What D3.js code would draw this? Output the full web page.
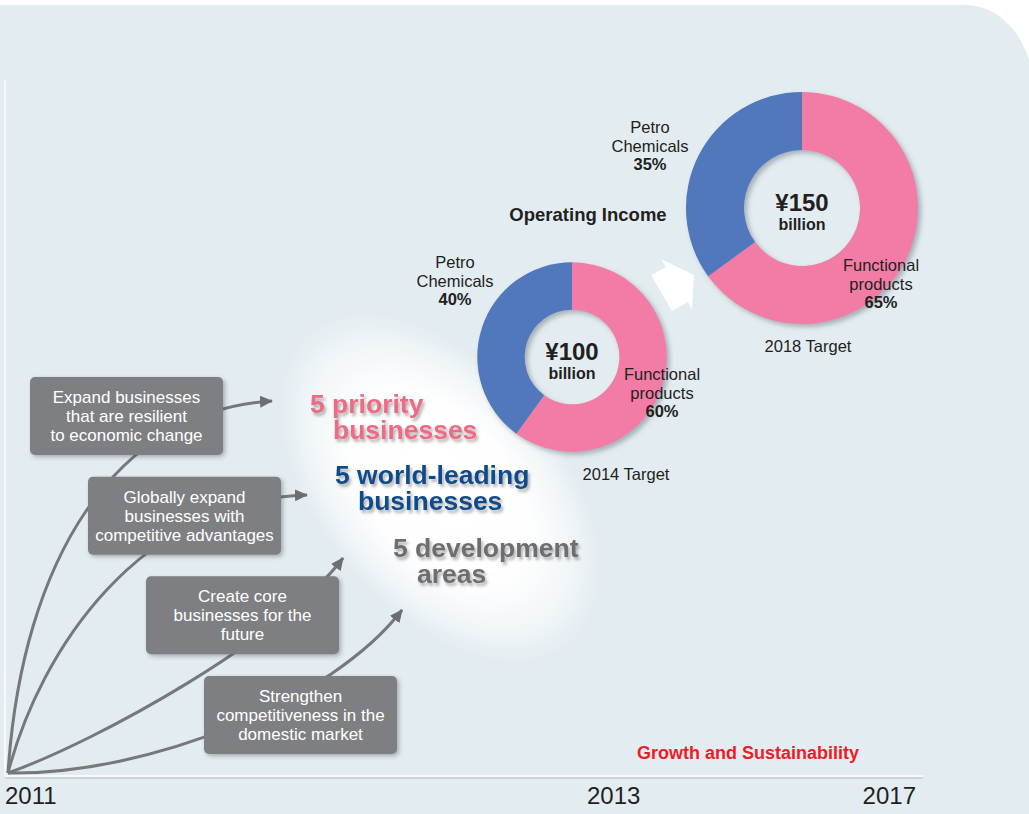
<!DOCTYPE html>
<html>
<head>
<meta charset="utf-8">
<script src="https://cdn.jsdelivr.net/npm/d3@7"></script>
<style>
  body { margin: 0; background: #fff; }
  svg { display: block; font-family: "Liberation Sans", Arial, Helvetica, sans-serif; }
</style>
</head>
<body>
<svg id="chart"></svg>
<script>
// data
const years = [2011, 2013, 2017];
const targets = ["2014 Target", "2018 Target"];
const income = [100, 150];            // ¥ billion
const segments = ["Functional products", "Petro Chemicals"];
const share2014 = [60, 40];
const share2018 = [65, 35];
const strategies = [
    ["Expand businesses", "that are resilient", "to economic change"],
    ["Globally expand", "businesses with", "competitive advantages"],
    ["Create core", "businesses for the", "future"],
    ["Strengthen", "competitiveness in the", "domestic market"]
];
const goals = [
    ["5 priority", "businesses"],
    ["5 world-leading", "businesses"],
    ["5 development", "areas"]
];

const width = 1029, height = 814;
const colors = {pink: "#f27ca5", blue: "#5177bc", bg: "#e3ecf1", box: "#7e7f82", ink: "#231f20"};

const svg = d3.select("svg#chart")
    .attr("width", width)
    .attr("height", height);

const defs = svg.append("defs");

let shadow = (id, dx, dy, sd, op, col) => {
    defs.append("filter").attr("id", id)
        .attr("x", "-20%").attr("y", "-20%").attr("width", "150%").attr("height", "150%")
        .append("feDropShadow")
        .attr("dx", dx).attr("dy", dy).attr("stdDeviation", sd)
        .attr("flood-color", col).attr("flood-opacity", op);
};
shadow("donutShadow", 3, 3, 2.5, 0.55, "#6f7f8a");
shadow("boxShadow", 2, 2, 2, 0.35, "#333");
shadow("textShadow", 2, 3, 1.5, 0.45, "#555");

const glow = defs.append("radialGradient").attr("id", "glow");
glow.append("stop").attr("offset", "0%").attr("stop-color", "#fff").attr("stop-opacity", 1);
glow.append("stop").attr("offset", "55%").attr("stop-color", "#fff").attr("stop-opacity", 0.97);
glow.append("stop").attr("offset", "80%").attr("stop-color", "#fff").attr("stop-opacity", 0.55);
glow.append("stop").attr("offset", "100%").attr("stop-color", "#fff").attr("stop-opacity", 0);

defs.append("marker")
    .attr("id", "head")
    .attr("markerUnits", "userSpaceOnUse")
    .attr("markerWidth", 16).attr("markerHeight", 14)
    .attr("refX", 12).attr("refY", 6)
    .attr("orient", "auto")
    .append("path")
    .attr("d", "M0,0 L13,6 L0,12 Z")
    .attr("fill", "#6d6e71");

// background panel with rounded top-right corner
svg.append("path")
    .attr("d", "M0,5 H966 A68,88 0 0 1 1034,93 V814 H0 Z")
    .attr("fill", colors.bg);

// white glow behind goal text
svg.append("ellipse")
    .attr("cx", 440).attr("cy", 488)
    .attr("rx", 205).attr("ry", 122)
    .attr("transform", "rotate(50,440,488)")
    .attr("fill", "url(#glow)");

// time axis
const xYear = d3.scaleLinear().domain(years).range([5, 587, 916]);

svg.append("line")
    .attr("x1", 5).attr("x2", 5).attr("y1", 80).attr("y2", 776)
    .attr("stroke", "#fff").attr("stroke-width", 1.5);
svg.append("line")
    .attr("x1", 5).attr("x2", 923).attr("y1", 778).attr("y2", 778)
    .attr("stroke", "#c4cdd3").attr("stroke-width", 1.5);
svg.append("line")
    .attr("x1", 5).attr("x2", 923).attr("y1", 776).attr("y2", 776)
    .attr("stroke", "#fff").attr("stroke-width", 1.5);

svg.selectAll("text.year")
    .data(years)
    .enter().append("text")
    .attr("class", "year")
    .attr("x", (d) => xYear(d))
    .attr("y", 804)
    .attr("text-anchor", (d, i) => i == years.length - 1 ? "end" : "start")
    .attr("font-size", "24px")
    .attr("fill", colors.ink)
    .text((d) => d);

svg.append("text")
    .attr("x", 748).attr("y", 759)
    .attr("text-anchor", "middle")
    .attr("font-size", "18px")
    .attr("font-weight", "bold")
    .attr("fill", "#ed1c24")
    .text("Growth and Sustainability");

// curves from 2011 to each goal (behind the boxes)
const origin = [8, 773];
const curveLayout = [
    {c1: [22, 560], c2: [115, 410], tip: [272, 401]},
    {c1: [40, 650], c2: [140, 500], tip: [307, 495]},
    {c1: [100, 740], c2: [283, 638], tip: [343, 558]},
    {c1: [150, 775], c2: [332, 701], tip: [402, 610]}
];

svg.selectAll("path.curve")
    .data(curveLayout)
    .enter().append("path")
    .attr("class", "curve")
    .attr("d", (d) => {
        let p = d3.path();
        p.moveTo(origin[0], origin[1]);
        p.bezierCurveTo(d.c1[0], d.c1[1], d.c2[0], d.c2[1], d.tip[0], d.tip[1]);
        return p.toString();
    })
    .attr("fill", "none")
    .attr("stroke", "#77787b")
    .attr("stroke-width", 3)
    .attr("marker-end", "url(#head)");

// strategy boxes
const boxW = 193, boxH = 78;
const boxX = d3.scaleLinear().domain([0, 3]).range([30, 204]);
const boxY = d3.scaleLinear().domain([0, 3]).range([377, 676]);

const boxes = svg.selectAll("g.box")
    .data(strategies)
    .enter().append("g")
    .attr("class", "box")
    .attr("transform", (d, i) => "translate(" + boxX(i) + "," + boxY(i) + ")");

boxes.append("rect")
    .attr("width", boxW).attr("height", boxH)
    .attr("rx", 5)
    .attr("fill", colors.box)
    .attr("filter", "url(#boxShadow)");

boxes.selectAll("text")
    .data((d) => d)
    .enter().append("text")
    .attr("x", boxW / 2)
    .attr("y", (d, i) => 26 + i * 19)
    .attr("text-anchor", "middle")
    .attr("font-size", "17px")
    .attr("fill", "#fff")
    .text((d) => d);

// goal text
const goalColors = ["#ef6a84", "#0f4c8c", "#6d6e71"];
const goalPos = [
    [[310, 413], [333, 439]],
    [[335, 484], [358, 510]],
    [[393, 557], [417, 583]]
];

goals.forEach((lines, gi) => {
    svg.selectAll(null)
        .data(lines)
        .enter().append("text")
        .attr("x", (d, i) => goalPos[gi][i][0])
        .attr("y", (d, i) => goalPos[gi][i][1])
        .attr("font-size", "26.5px")
        .attr("font-weight", "bold")
        .attr("fill", goalColors[gi])
        .attr("filter", "url(#textShadow)")
        .text((d) => d);
});

// donuts
const radius = d3.scaleSqrt().domain([0, 150]).range([0, 116]);
const pie = d3.pie().sort(null).value((d) => d);
const donutLayout = [
    {cx: 572, cy: 357, petro: [455, 268], func: [662, 380], target: [626, 480]},
    {cx: 802, cy: 208, petro: [650, 133], func: [881, 271], target: [808, 352]}
];
const shares = [share2014, share2018];
const segColors = [colors.pink, colors.blue];

svg.append("text")
    .attr("x", 588).attr("y", 221)
    .attr("text-anchor", "middle")
    .attr("font-size", "18.5px")
    .attr("font-weight", "bold")
    .attr("fill", colors.ink)
    .text("Operating Income");

// white arrow between the donuts
svg.append("path")
    .attr("d", "M651,275 L666,267 L661,259 L694,275 L692,310 L688,302 L672,311 Z")
    .attr("fill", "#fff");

donutLayout.forEach((lay, k) => {
    let r = radius(income[k]);
    let arc = d3.arc().innerRadius(r * 0.5).outerRadius(r);
    let g = svg.append("g")
        .attr("transform", "translate(" + lay.cx + "," + lay.cy + ")");

    g.append("g")
        .attr("filter", "url(#donutShadow)")
        .selectAll("path")
        .data(pie(shares[k]))
        .enter().append("path")
        .attr("d", arc)
        .attr("fill", (d, i) => segColors[i]);

    g.append("text")
        .attr("y", 3)
        .attr("text-anchor", "middle")
        .attr("font-size", "24px")
        .attr("font-weight", "bold")
        .attr("fill", colors.ink)
        .text("¥" + income[k]);
    g.append("text")
        .attr("y", 22)
        .attr("text-anchor", "middle")
        .attr("font-size", "16px")
        .attr("font-weight", "bold")
        .attr("fill", colors.ink)
        .text("billion");

    // segment labels
    let labels = [
        {pos: lay.func, words: segments[0].split(" "), pct: shares[k][0]},
        {pos: lay.petro, words: ["Petro", "Chemicals"], pct: shares[k][1]}
    ];
    labels.forEach((lab) => {
        let t = svg.append("text")
            .attr("text-anchor", "middle")
            .attr("font-size", "16.5px")
            .attr("fill", colors.ink);
        lab.words.forEach((w, i) => {
            t.append("tspan")
                .attr("x", lab.pos[0])
                .attr("y", lab.pos[1] + i * 18.5)
                .text(w);
        });
        t.append("tspan")
            .attr("x", lab.pos[0])
            .attr("y", lab.pos[1] + 37)
            .attr("font-weight", "bold")
            .text(lab.pct + "%");
    });

    svg.append("text")
        .attr("x", lay.target[0]).attr("y", lay.target[1])
        .attr("text-anchor", "middle")
        .attr("font-size", "16.5px")
        .attr("fill", colors.ink)
        .text(targets[k]);
});
</script>
</body>
</html>
